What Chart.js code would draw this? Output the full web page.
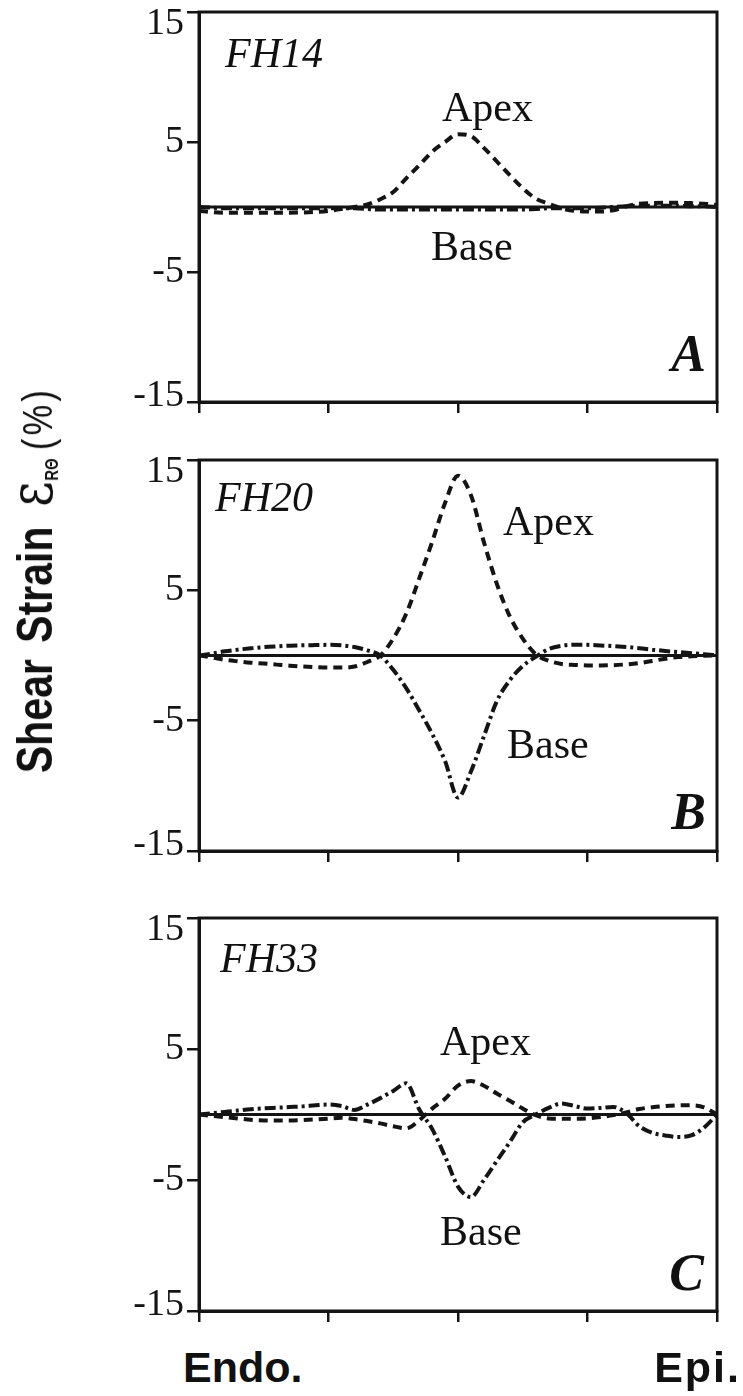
<!DOCTYPE html>
<html><head><meta charset="utf-8">
<script src="https://cdn.jsdelivr.net/npm/chart.js@4.4.1/dist/chart.umd.min.js"></script>
<style>
html,body{margin:0;padding:0;background:#fff;}
body{width:743px;height:1396px;position:relative;overflow:hidden;}
canvas{position:absolute;left:0;}
.lbl{position:absolute;white-space:nowrap;color:#111;line-height:1;}
.serif{font-family:'Liberation Serif','Times New Roman',serif;}
.sans{font-family:'Liberation Sans',Arial,sans-serif;}
#ytitle{position:absolute;left:31px;top:580px;transform:translate(-50%,-50%) rotate(-90deg) scaleX(0.82);white-space:nowrap;color:#111;font-family:'Liberation Sans',Arial,sans-serif;font-size:50px;line-height:1;}
#ytitle span{display:inline-block;vertical-align:baseline;}
#ytitle .w{font-weight:bold;}
#ytitle .s2{margin-left:20px;}
#ytitle .eps{font-family:'DejaVu Serif',serif;font-weight:normal;font-size:60px;margin-left:24px;}
#ytitle .sub{font-weight:bold;font-size:18px;position:relative;top:6px;margin-left:1px;}
#ytitle .pct{font-weight:normal;font-size:42px;margin-left:10px;letter-spacing:4px;}
</style></head><body>
<canvas id="cA"></canvas>
<canvas id="cB"></canvas>
<canvas id="cC"></canvas>
<div id="ytitle"><span class="w">Shear</span><span class="w s2">Strain</span><span class="eps">ε</span><span class="sub">RΘ</span><span class="pct">(%)</span></div>
<script>
// ---- data ----
const xPos = [0,0.025,0.05,0.075,0.1,0.125,0.15,0.175,0.2,0.225,0.25,0.275,0.3,0.325,0.35,0.375,0.4,0.425,0.45,0.475,0.5,0.525,0.55,0.575,0.6,0.625,0.65,0.675,0.7,0.725,0.75,0.775,0.8,0.825,0.85,0.875,0.9,0.925,0.95,0.975,1];
const zeroX = [0, 1];
const zeroLine = [0, 0];
const xTicks = [0, 0.25, 0.5, 0.75, 1];
const yTicks = [-15, -5, 5, 15];
const xEndLabels = ['Endo.', 'Epi.'];
const panelNames = ['FH14', 'FH20', 'FH33'];
const panelLetters = ['A', 'B', 'C'];
const seriesNames = ['Apex', 'Base'];

const apexA = [-0.3,-0.4,-0.44,-0.44,-0.44,-0.44,-0.44,-0.44,-0.42,-0.38,-0.3,-0.15,0,0.2,0.6,1.15,2.2,3.2,4.25,5.0,5.6,5.45,4.55,3.5,2.45,1.45,0.65,0.25,-0.1,-0.3,-0.35,-0.35,-0.25,0.05,0.25,0.3,0.32,0.32,0.3,0.25,0.15];
const baseA = [0,-0.05,-0.1,-0.1,-0.1,-0.1,-0.1,-0.1,-0.1,-0.1,-0.1,-0.1,-0.1,-0.15,-0.2,-0.2,-0.2,-0.2,-0.2,-0.2,-0.2,-0.2,-0.2,-0.2,-0.2,-0.2,-0.15,-0.1,-0.1,-0.1,-0.1,-0.05,0,0.05,0.1,0.1,0.1,0.1,0.05,0.05,0];
const apexB = [0,-0.15,-0.33,-0.45,-0.55,-0.62,-0.7,-0.78,-0.85,-0.9,-0.93,-0.93,-0.85,-0.5,0,1.3,3.2,5.9,8.7,11.7,13.8,12.3,8.7,5.5,3.0,1.3,0.1,-0.4,-0.65,-0.72,-0.76,-0.76,-0.74,-0.68,-0.58,-0.42,-0.25,-0.12,-0.06,-0.02,0];
const baseB = [0,0.15,0.32,0.45,0.55,0.64,0.7,0.75,0.78,0.8,0.82,0.78,0.65,0.4,0,-1.1,-2.5,-4.2,-6.0,-8.1,-10.9,-8.9,-6.2,-3.5,-1.9,-0.8,-0.1,0.5,0.75,0.83,0.82,0.77,0.72,0.65,0.56,0.45,0.35,0.26,0.18,0.1,0];
const apexC = [0,-0.1,-0.2,-0.3,-0.4,-0.45,-0.45,-0.45,-0.42,-0.38,-0.32,-0.25,-0.35,-0.5,-0.68,-0.9,-1.05,-0.45,0.45,1.2,2.2,2.55,2.2,1.6,1.05,0.45,-0.05,-0.3,-0.32,-0.32,-0.3,-0.2,-0.05,0.15,0.42,0.55,0.65,0.7,0.71,0.55,0];
const baseC = [0,0.1,0.2,0.3,0.4,0.47,0.52,0.57,0.62,0.7,0.76,0.65,0.35,0.75,1.25,1.8,2.38,0.4,-1.1,-3.2,-5.5,-6.3,-5.0,-3.55,-2.1,-0.6,0,0.5,0.84,0.65,0.45,0.5,0.58,0.1,-0.9,-1.4,-1.6,-1.72,-1.6,-1.0,0];

// ---- layout ----
const INK = '#141414';
const PLOT_LEFT = 199, PLOT_RIGHT = 717, W = 743;
const PAD_T = 30, AX_B = 30;
const panels = [
  {id:'cA', top:12,  bottom:402,  apex:apexA, base:baseA,
   name:{x:225,y:53}, apexL:{x:442,y:107}, baseL:{x:431,y:246}, letter:{r:706,y:354}},
  {id:'cB', top:460, bottom:851,  apex:apexB, base:baseB,
   name:{x:215,y:497}, apexL:{x:503,y:521}, baseL:{x:507,y:744}, letter:{r:706,y:812}},
  {id:'cC', top:918, bottom:1311, apex:apexC, base:baseC,
   name:{x:220,y:958}, apexL:{x:440,y:1041}, baseL:{x:440,y:1231}, letter:{r:704,y:1273}}
];

function pts(xs, ys){ return xs.map((x,i)=>({x:x, y:ys[i]})); }

const framePlugin = {
  id:'frame',
  afterDatasetsDraw(chart){
    const a = chart.chartArea, ctx = chart.ctx;
    ctx.save();
    ctx.strokeStyle = INK; ctx.lineWidth = 3;
    ctx.strokeRect(a.left, a.top, a.right - a.left, a.bottom - a.top);
    ctx.restore();
  }
};

function addLabel(text, cls, css){
  const d = document.createElement('div');
  d.className = 'lbl ' + cls;
  d.textContent = text;
  Object.assign(d.style, css);
  document.body.appendChild(d);
  return d;
}

function yLabel(v){
  if (v === 15) return ['', '', '15'];
  if (v === -15) return ['-15', ''];
  return String(v);
}

panels.forEach((p, k) => {
  const cv = document.getElementById(p.id);
  const h = (p.bottom - p.top) + PAD_T + AX_B;
  cv.width = W; cv.height = h;
  cv.style.width = W + 'px'; cv.style.height = h + 'px';
  cv.style.top = (p.top - PAD_T) + 'px';
  new Chart(cv.getContext('2d'), {
    type:'line',
    data:{datasets:[
      {label:'zero', data:pts(zeroX, zeroLine), borderColor:INK, borderWidth:3, pointRadius:0},
      {label:seriesNames[0], data:pts(xPos, p.apex), borderColor:INK, borderWidth:4, borderDash:[9,6], pointRadius:0, cubicInterpolationMode:'monotone'},
      {label:seriesNames[1], data:pts(xPos, p.base), borderColor:INK, borderWidth:4, borderDash:[11,4,3,4], pointRadius:0, cubicInterpolationMode:'monotone'}
    ]},
    options:{
      responsive:false, animation:false, devicePixelRatio:1,
      layout:{padding:{top:PAD_T, right:W - PLOT_RIGHT, left:0, bottom:0}},
      plugins:{legend:{display:false}, tooltip:{enabled:false}},
      scales:{
        x:{type:'linear', min:0, max:1,
           afterBuildTicks:s=>{ s.ticks = xTicks.map(v=>({value:v})); },
           afterFit:s=>{ s.height = AX_B; },
           ticks:{callback:()=> ''},
           grid:{drawOnChartArea:false, drawTicks:true, tickLength:11, color:INK, lineWidth:2.5},
           border:{display:true, color:INK, width:3}},
        y:{type:'linear', min:-15, max:15,
           afterBuildTicks:s=>{ s.ticks = yTicks.map(v=>({value:v})); },
           afterFit:s=>{ s.width = PLOT_LEFT; },
           ticks:{callback:yLabel, color:INK, padding:3,
                  font:{family:"'Liberation Serif', 'Times New Roman', serif", size:38, lineHeight:'12px'}},
           grid:{drawOnChartArea:false, drawTicks:true, tickLength:12, color:INK, lineWidth:2.5},
           border:{display:true, color:INK, width:3}}
      }
    },
    plugins:[framePlugin]
  });
  addLabel(panelNames[k], 'serif', {left:p.name.x+'px', top:(p.name.y-21)+'px', fontSize:'42px', fontStyle:'italic'});
  addLabel(seriesNames[0], 'serif', {left:p.apexL.x+'px', top:(p.apexL.y-21)+'px', fontSize:'42px'});
  addLabel(seriesNames[1], 'serif', {left:p.baseL.x+'px', top:(p.baseL.y-21)+'px', fontSize:'42px'});
  addLabel(panelLetters[k], 'serif', {right:(W - p.letter.r)+'px', top:(p.letter.y-26)+'px', fontSize:'52px', fontStyle:'italic', fontWeight:'bold'});
});

addLabel(xEndLabels[0], 'sans', {left:'183px', top:'1346px', fontSize:'43px', fontWeight:'bold'});
addLabel(xEndLabels[1], 'sans', {right:(W-741)+'px', top:'1346px', fontSize:'43px', fontWeight:'bold', letterSpacing:'2px'});
</script>
</body></html>
